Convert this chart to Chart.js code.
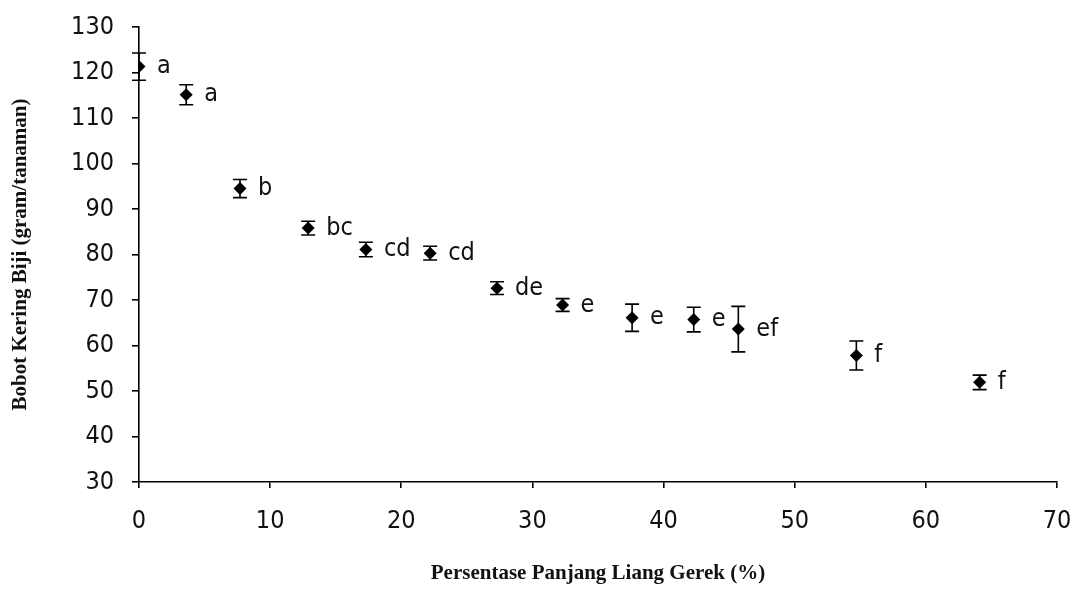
<!DOCTYPE html>
<html>
<head>
<meta charset="utf-8">
<script src="https://cdn.jsdelivr.net/npm/chart.js@4.4.1/dist/chart.umd.min.js"></script>
<style>
  html, body { margin: 0; padding: 0; background: #ffffff; }
  #wrap { width: 1076px; height: 590px; position: relative; }
</style>
</head>
<body>
<div id="wrap"><canvas id="c" width="1076" height="590"></canvas></div>
<script>
// ---- Data ----
const xValues = [0, 3.6, 7.7, 12.9, 17.3, 22.2, 27.3, 32.3, 37.6, 42.3, 45.7, 54.7, 64.1];
const yValues = [121.3, 115.1, 94.5, 85.8, 81.1, 80.3, 72.6, 68.9, 66.1, 65.7, 63.6, 57.8, 51.9];
const errValues = [3.0, 2.2, 2.0, 1.5, 1.6, 1.5, 1.4, 1.4, 3.0, 2.7, 5.0, 3.2, 1.6];
const groupLetters = ['a', 'a', 'b', 'bc', 'cd', 'cd', 'de', 'e', 'e', 'e', 'ef', 'f', 'f'];
const xTitle = 'Persentase Panjang Liang Gerek (%)';
const yTitle = 'Bobot Kering Biji (gram/tanaman)';

const points = xValues.map((x, i) => ({ x: x, y: yValues[i] }));
const tickFont = '"Liberation Sans Narrow", "Arial Narrow", "DejaVu Sans Condensed", sans-serif';

const errorBarPlugin = {
  id: 'errorBars',
  afterDatasetsDraw(chart) {
    const ctx = chart.ctx;
    const xs = chart.scales.x, ys = chart.scales.y;
    ctx.save();
    ctx.strokeStyle = '#000';
    ctx.lineWidth = 1.6;
    xValues.forEach((x, i) => {
      const px = xs.getPixelForValue(x);
      const top = ys.getPixelForValue(yValues[i] + errValues[i]);
      const bot = ys.getPixelForValue(yValues[i] - errValues[i]);
      ctx.beginPath();
      ctx.moveTo(px, top); ctx.lineTo(px, bot);
      ctx.moveTo(px - 7, top); ctx.lineTo(px + 7, top);
      ctx.moveTo(px - 7, bot); ctx.lineTo(px + 7, bot);
      ctx.stroke();
    });
    // group letters
    ctx.fillStyle = '#111';
    ctx.font = '25px ' + tickFont;
    ctx.textBaseline = 'middle';
    ctx.textAlign = 'left';
    xValues.forEach((x, i) => {
      const px = xs.getPixelForValue(x);
      const py = ys.getPixelForValue(yValues[i]);
      ctx.fillText(groupLetters[i], px + 18, py);
    });
    ctx.restore();
  }
};

new Chart(document.getElementById('c'), {
  type: 'scatter',
  data: {
    datasets: [{
      data: points,
      pointStyle: 'rectRot',
      pointRadius: 6.5,
      pointHoverRadius: 6.5,
      backgroundColor: '#000',
      borderColor: '#000',
      borderWidth: 0
    }]
  },
  options: {
    responsive: false,
    animation: false,
    devicePixelRatio: 1,
    layout: { padding: { left: 0, right: 19, top: 27, bottom: 0 } },
    plugins: { legend: { display: false }, tooltip: { enabled: false } },
    scales: {
      x: {
        type: 'linear',
        min: 0, max: 70,
        afterFit(s) { s.height = 108; s.paddingLeft = 0; s.paddingRight = 0; },
        ticks: {
          stepSize: 10,
          color: '#111',
          padding: 18,
          font: { family: tickFont, size: 25 }
        },
        grid: { display: true, drawOnChartArea: false, drawTicks: true, tickLength: 6, color: '#000', lineWidth: 1.6 },
        border: { display: true, color: '#000', width: 1.6 },
        title: {
          display: true,
          text: xTitle,
          color: '#111',
          font: { family: '"Liberation Serif", "Times New Roman", serif', size: 21, weight: 'bold' },
          padding: { top: 0, bottom: 4 }
        }
      },
      y: {
        type: 'linear',
        min: 30, max: 130,
        afterFit(s) { s.width = 139; s.paddingTop = 0; s.paddingBottom = 0; },
        ticks: {
          stepSize: 10,
          color: '#111',
          padding: 18,
          font: { family: tickFont, size: 25 }
        },
        grid: { display: true, drawOnChartArea: false, drawTicks: true, tickLength: 7, color: '#000', lineWidth: 1.6 },
        border: { display: true, color: '#000', width: 1.6 },
        title: {
          display: true,
          text: yTitle,
          color: '#111',
          font: { family: '"Liberation Serif", "Times New Roman", serif', size: 21, weight: 'bold' },
          padding: { top: 8, bottom: 0 }
        }
      }
    }
  },
  plugins: [errorBarPlugin]
});
</script>
</body>
</html>
